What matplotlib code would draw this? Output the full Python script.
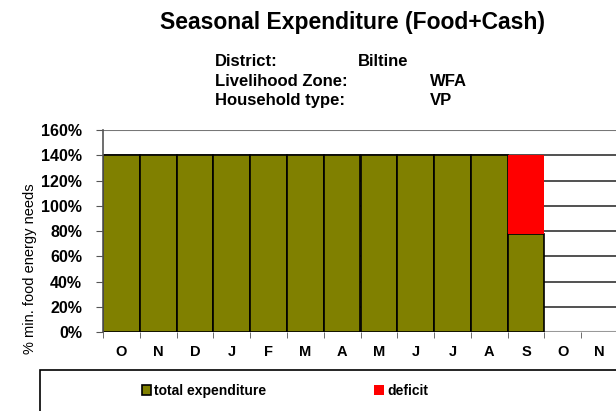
import numpy as np
import matplotlib.pyplot as plt
from matplotlib.patches import Rectangle
from matplotlib.ticker import FuncFormatter

# data (fractions of min. food energy needs)
months = ["O", "N", "D", "J", "F", "M", "A", "M", "J", "J", "A", "S", "O", "N"]
total_expenditure = [1.40, 1.40, 1.40, 1.40, 1.40, 1.40, 1.40, 1.40, 1.40, 1.40, 1.40, 0.78]
deficit = [0, 0, 0, 0, 0, 0, 0, 0, 0, 0, 0, 0.62]
yticks = [0, 0.2, 0.4, 0.6, 0.8, 1.0, 1.2, 1.4, 1.6]

plt.rcParams["font.family"] = ["Liberation Sans", "DejaVu Sans"]
plt.rcParams["font.weight"] = "bold"

fig = plt.figure(figsize=(6.16, 4.11), dpi=100)
ax = fig.add_axes([103 / 616, 1 - 332 / 411, 515 / 616, 202 / 411])

x = np.arange(len(total_expenditure))
# grid lines sit behind the bars
for y in yticks[1:-1]:
    ax.axhline(y, color="#333333", lw=1.2, zorder=1)
ax.axhline(1.6, color="#777777", lw=1.5, zorder=1)
ax.axhline(0, color="#999999", lw=1.5, zorder=1)

b1 = ax.bar(x, total_expenditure, width=1.0, color="#808000",
            edgecolor="black", lw=1.2, zorder=2, label="total expenditure")
b2 = ax.bar(x, deficit, bottom=total_expenditure, width=1.0, color="#ff0000",
            edgecolor="none", lw=0, zorder=2, label="deficit")

ax.set_xlim(-0.5, len(months) - 0.5)
ax.set_ylim(0, 1.6)
ax.set_yticks(yticks)
ax.yaxis.set_major_formatter(FuncFormatter(lambda v, p: f"{v * 100:.0f}%"))
ax.set_xticks(np.arange(len(months)))
ax.set_xticklabels(months)
ax.set_xticks(np.arange(len(months) + 1) - 0.5, minor=True)
ax.tick_params(axis="x", which="major", length=0, pad=9, labelsize=10.5)
ax.tick_params(axis="x", which="minor", length=4, color="#555555")
ax.tick_params(axis="y", length=5, color="#555555", labelsize=11.5, pad=10)
for s in ["top", "right", "bottom"]:
    ax.spines[s].set_visible(False)
ax.spines["left"].set_color("#555555")
ax.spines["left"].set_linewidth(1.2)

fig.text(30 / 616, 1 - 269 / 411, "% min. food energy needs", rotation=90,
         ha="center", va="center", fontsize=10.5, fontweight="normal")

fig.text(352 / 616, 1 - 22 / 411, "Seasonal Expenditure (Food+Cash)",
         ha="center", va="center", fontsize=16.5, fontweight="bold")
rows = [("District:", "Biltine", 358), ("Livelihood Zone:", "WFA", 430),
        ("Household type:", "VP", 430)]
for i, (k, v, xv) in enumerate(rows):
    yy = 1 - (62 + i * 19) / 411
    fig.text(215 / 616, yy, k, ha="left", va="center", fontsize=12)
    fig.text(xv / 616, yy, v, ha="left", va="center", fontsize=12)

# legend box, cut off at the bottom/right like the reference
fig.patches.append(Rectangle((40 / 616, -0.05), 1.0, 1 - 370 / 411 + 0.05,
                             transform=fig.transFigure, fill=False,
                             edgecolor="black", lw=1.2))
fig.legend(handles=[b1, b2], loc="center left", ncol=2,
           bbox_to_anchor=(129 / 616, 1 - 391 / 411), frameon=False,
           handlelength=0.7, handleheight=0.7, handletextpad=0.2,
           columnspacing=7.8, prop={"size": 10, "weight": "bold"})

fig.savefig("out.png", dpi=100)
